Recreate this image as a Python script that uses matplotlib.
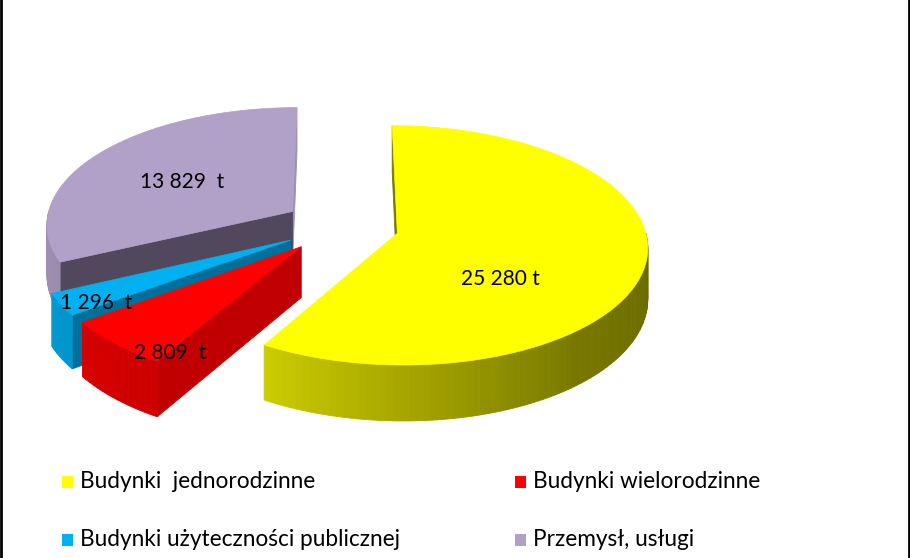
import numpy as np
import matplotlib.pyplot as plt
from matplotlib.patches import Polygon, Rectangle
from matplotlib.colors import to_rgb

plt.rcParams['font.family'] = ['Lato', 'DejaVu Sans']

# Dane: emisja wg sektorow
labels = ['Budynki  jednorodzinne', 'Budynki wielorodzinne',
          'Budynki użyteczności publicznej', 'Przemysł, usługi']
values = [25280, 2809, 1296, 13829]
value_text = ['25 280 t', '2 809  t', '1 296  t', '13 829  t']

colors = ['#FFFF00', '#FF0000', '#00B0F0', '#B1A0C7']
start_face = ['#7A7A00', '#C00000', '#006F99', '#51485D']
end_face = ['#8A8A00', '#B00000', '#00688F', '#9C8FB0']

# -----------------------------------------------------------------
# geometria "3D" (piksele)
CX, CY = 341, 226
RX, RY = 247, 117
PERSP = 0.1
DEPTH = 50
EXPLODE = 0.235
CAM = np.array([0.0, 1.0 / PERSP])

label_pos = [(500, 279), (170, 353), (96, 303), (182, 182)]


def proj(X, Z, down=0.0):
    s = 1.0 / (1.0 - PERSP * np.asarray(Z))
    return CX + RX * np.asarray(X) * s, CY + (RY * np.asarray(Z) + DEPTH * down) * s


def shade(c, f):
    r, g, b = to_rgb(c)
    return (r * f, g * f, b * f)


def side_factor(t):
    return np.interp(t, [90, 140, 180, 210, 270], [0.40, 0.47, 0.65, 0.80, 0.92])


frac = np.array(values, dtype=float) / sum(values)
edges = np.concatenate([[0.0], np.cumsum(frac)]) * 360.0

fig = plt.figure(figsize=(9.1, 5.58), dpi=100)
ax = fig.add_axes([0, 0, 1, 1])
ax.set_xlim(0, 910)
ax.set_ylim(558, 0)
ax.axis('off')

sides = []
tops = []
for i in range(len(values)):
    t0, t1 = edges[i], edges[i + 1]
    tm = np.radians((t0 + t1) / 2)
    ox, oz = EXPLODE * np.sin(tm), -EXPLODE * np.cos(tm)

    def arc(ta, tb, down=0.0, n=80):
        th = np.radians(np.linspace(ta, tb, n))
        return proj(ox + np.sin(th), oz - np.cos(th), down)

    # gorna sciana
    ax_, ay_ = arc(t0, t1)
    px, py = proj(ox, oz)
    tops.append((np.column_stack([np.r_[px, ax_], np.r_[py, ay_]]), colors[i]))

    # sciana boczna (zewnetrzna)
    lo, hi = max(t0, 90.0), min(t1, 270.0)
    if lo < hi:
        steps = np.linspace(lo, hi, max(int((hi - lo) / 1.5), 2) + 1)
        for a, b in zip(steps[:-1], steps[1:]):
            xt, yt = arc(a, b, 0.0, 4)
            xb, yb = arc(b, a, 1.0, 4)
            verts = np.column_stack([np.r_[xt, xb], np.r_[yt, yb]])
            th = np.radians((a + b) / 2)
            depth = oz - np.cos(th)
            sides.append((depth, verts, shade(colors[i], side_factor((a + b) / 2))))

    # sciany przekroju
    for t, col, sign in [(t0, start_face[i], -1), (t1, end_face[i], 1)]:
        th = np.radians(t)
        normal = sign * np.array([np.cos(th), np.sin(th)])
        if np.dot(normal, CAM - np.array([ox, oz])) <= 0:
            continue
        X = [ox, ox + np.sin(th), ox + np.sin(th), ox]
        Z = [oz, oz - np.cos(th), oz - np.cos(th), oz]
        D = [0, 0, 1, 1]
        xs, ys = proj(X, Z, np.array(D))
        depth = oz - 0.5 * np.cos(th)
        sides.append((depth, np.column_stack([xs, ys]), col))

for depth, verts, col in sorted(sides, key=lambda s: s[0]):
    ax.add_patch(Polygon(verts, closed=True, facecolor=col, edgecolor=col, lw=0.6))
for verts, col in tops:
    ax.add_patch(Polygon(verts, closed=True, facecolor=col, edgecolor=col, lw=0.5))

for txt, (x, y) in zip(value_text, label_pos):
    ax.text(x, y, txt, ha='center', va='center', fontsize=15, color='black')

# legenda
leg_pos = [(62, 482), (515, 482), (62, 540), (515, 540)]
for lab, col, (x, y) in zip(labels, colors, leg_pos):
    ax.add_patch(Rectangle((x, y - 6), 11, 12, facecolor=col, edgecolor='none'))
    ax.text(x + 18, y, lab, ha='left', va='center', fontsize=16.3, color='black')

# ramka
ax.plot([1, 1], [0, 558], color='black', lw=2)
ax.plot([908.5, 908.5], [0, 558], color='black', lw=2)

fig.savefig('out.png', dpi=100)
